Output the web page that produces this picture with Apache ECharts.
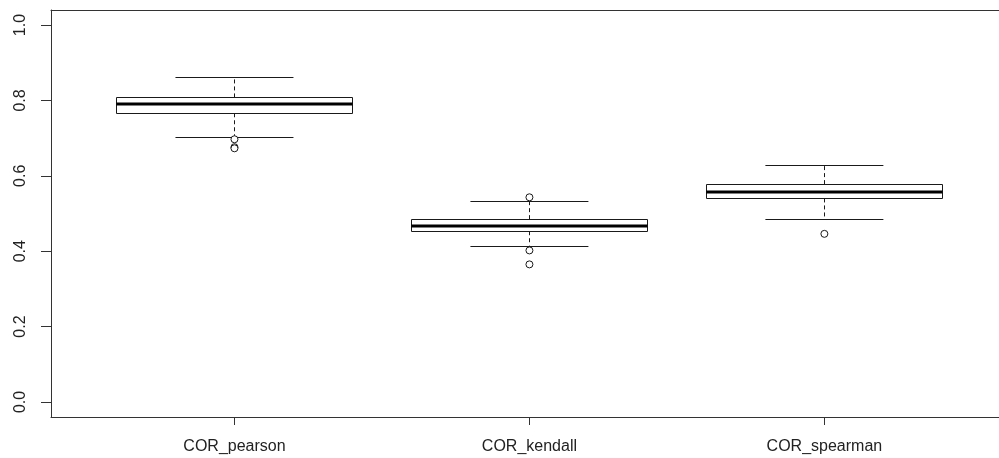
<!DOCTYPE html>
<html>
<head>
<meta charset="utf-8">
<script src="https://cdn.jsdelivr.net/npm/echarts@6/dist/echarts.min.js"></script>
<style>
  html, body { margin: 0; padding: 0; background: #fff; }
  #chart { width: 999px; height: 458px; }
</style>
</head>
<body>
<div id="chart"></div>
<script>
// ---- data ----
const categories = ['COR_pearson', 'COR_kendall', 'COR_spearman'];
const lowerWhisker = [0.702, 0.415, 0.485];
const q1 = [0.766, 0.453, 0.540];
const median = [0.790, 0.466, 0.558];
const q3 = [0.808, 0.485, 0.578];
const upperWhisker = [0.861, 0.534, 0.629];
const outliersPearson = [0.697, 0.676, 0.673];
const outliersKendall = [0.543, 0.402, 0.365];
const outliersSpearman = [0.446];
const yTicks = [0, 0.2, 0.4, 0.6, 0.8, 1.0];
const xPositions = [1, 2, 3];

// ---- build ----
const boxData = categories.map((c, i) =>
  [xPositions[i], lowerWhisker[i], q1[i], median[i], q3[i], upperWhisker[i]]);
const outlierData = [];
[outliersPearson, outliersKendall, outliersSpearman].forEach((arr, i) => {
  arr.forEach(v => outlierData.push([xPositions[i], v]));
});

const INK = '#1a1a1a';
const FRAME = '#333';
const FONT = 'Liberation Sans, Arial, sans-serif';
const X_MIN = 0.378, X_MAX = 3.592;
const h = v => Math.round(v) + 0.5;

function renderBox(params, api) {
  const x = api.value(0);
  const half = api.size([0.4, 0])[0];
  const capHalf = half / 2;
  const cx = api.coord([x, 0])[0];
  const yMin = api.coord([x, api.value(1)])[1];
  const yQ1 = api.coord([x, api.value(2)])[1];
  const yMed = api.coord([x, api.value(3)])[1];
  const yQ3 = api.coord([x, api.value(4)])[1];
  const yMax = api.coord([x, api.value(5)])[1];
  const lineStyle = { stroke: INK, lineWidth: 1, fill: null };
  const dashStyle = { stroke: INK, lineWidth: 1, lineDash: [4, 3], fill: null };
  return {
    type: 'group',
    children: [
      { type: 'line', shape: { x1: h(cx), y1: yQ3, x2: h(cx), y2: yMax }, style: dashStyle },
      { type: 'line', shape: { x1: h(cx), y1: yQ1, x2: h(cx), y2: yMin }, style: dashStyle },
      { type: 'line', shape: { x1: cx - capHalf, y1: h(yMax), x2: cx + capHalf, y2: h(yMax) }, style: lineStyle },
      { type: 'line', shape: { x1: cx - capHalf, y1: h(yMin), x2: cx + capHalf, y2: h(yMin) }, style: lineStyle },
      { type: 'rect', shape: { x: h(cx - half), y: h(yQ3), width: Math.round(2 * half), height: Math.round(yQ1 - yQ3) },
        style: { fill: '#fff', stroke: INK, lineWidth: 1 } },
      { type: 'line', shape: { x1: cx - half, y1: Math.round(yMed), x2: cx + half, y2: Math.round(yMed) },
        style: { stroke: '#000', lineWidth: 3 } }
    ]
  };
}

const chart = echarts.init(document.getElementById('chart'), null, { renderer: 'canvas' });
chart.setOption({
  animation: false,
  backgroundColor: '#fff',
  grid: {
    left: 51, top: 10, right: 0, bottom: 41,
    show: false
  },
  xAxis: [
    {
      type: 'value', min: X_MIN, max: X_MAX, position: 'bottom',
      splitLine: { show: false },
      axisLine: { show: true, onZero: false, lineStyle: { color: FRAME, width: 1 } },
      axisTick: { show: true, inside: false, customValues: xPositions, length: 8, lineStyle: { color: FRAME } },
      axisLabel: {
        customValues: xPositions, margin: 22,
        formatter: v => categories[Math.round(v) - 1],
        fontFamily: FONT, fontSize: 16, color: '#222'
      }
    },
    {
      type: 'value', min: X_MIN, max: X_MAX, position: 'top',
      splitLine: { show: false },
      axisLine: { show: true, onZero: false, lineStyle: { color: FRAME, width: 1 } },
      axisTick: { show: false },
      axisLabel: { show: false }
    }
  ],
  yAxis: {
    type: 'value', min: -0.04, max: 1.04,
    splitLine: { show: false },
    axisLine: { show: true, onZero: false, lineStyle: { color: FRAME, width: 1 } },
    axisTick: { show: true, customValues: yTicks, length: 10, lineStyle: { color: FRAME } },
    axisLabel: {
      customValues: yTicks, rotate: 90, margin: 22,
      formatter: v => v.toFixed(1),
      fontFamily: FONT, fontSize: 16, color: '#222'
    }
  },
  series: [
    {
      type: 'custom',
      xAxisIndex: 0,
      renderItem: renderBox,
      data: boxData,
      encode: { x: 0, y: [1, 2, 3, 4, 5] },
      z: 2
    },
    {
      type: 'scatter',
      xAxisIndex: 0,
      data: outlierData,
      symbol: 'circle',
      symbolSize: 7,
      itemStyle: { color: '#fff', borderColor: INK, borderWidth: 1, opacity: 1 },
      z: 3
    }
  ]
});
</script>
</body>
</html>
